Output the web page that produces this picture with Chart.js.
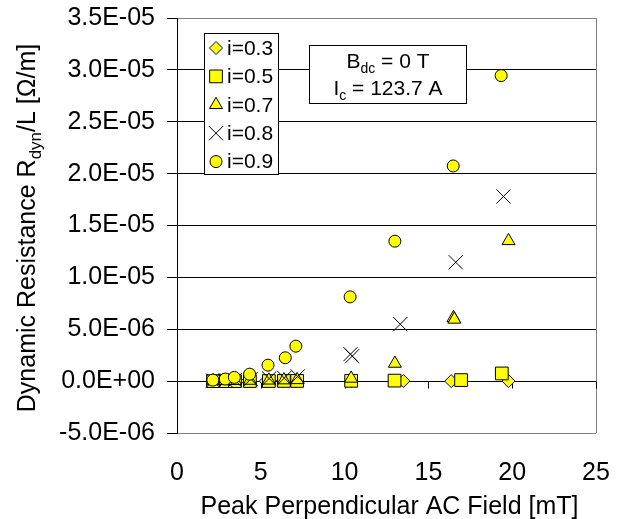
<!DOCTYPE html>
<html>
<head>
<meta charset="utf-8">
<script src="https://cdn.jsdelivr.net/npm/chart.js@4/dist/chart.umd.min.js"></script>
<style>
  html, body { margin: 0; padding: 0; background: #fff; }
  #wrap { width: 621px; height: 519px; position: relative; }
</style>
</head>
<body>
<div id="wrap"><canvas id="rdynChart"></canvas></div>
<script>
// peak perpendicular AC field [mT] and R_dyn/L [Ohm/m]
const xI03 = [2.1, 2.85, 3.4, 4.2, 5.3, 6.3, 7.1, 10.4, 13.51, 16.36, 19.78]
const yI03 = [0, 0, 0, 0, 0, 0, 0, 0, 0.01e-6, 0, 0]

const xI05 = [2.15, 2.94, 3.46, 4.35, 5.48, 6.38, 7.17, 10.39, 12.98, 16.95, 19.38]
const yI05 = [0, 0, 0, 0.01e-6, 0.01e-6, 0.02e-6, 0.02e-6, 0.03e-6, 0.05e-6, 0.1e-6, 0.74e-6]

const xI07 = [2.15, 2.9, 3.45, 4.35, 5.48, 6.38, 7.17, 10.39, 13.0, 16.5, 16.55, 19.78]
const yI07 = [0.02e-6, 0.03e-6, 0.04e-6, 0.06e-6, 0.08e-6, 0.1e-6, 0.12e-6, 0.26e-6, 1.7e-6, 6.1e-6, 5.95e-6, 1.352e-5]

const xI08 = [2.15, 2.9, 3.45, 4.4, 5.5, 6.4, 7.2, 10.35, 10.45, 13.32, 16.63, 19.48]
const yI08 = [0.05e-6, 0.08e-6, 0.1e-6, 0.2e-6, 0.25e-6, 0.3e-6, 0.45e-6, 2.6e-6, 2.4e-6, 5.49e-6, 1.146e-5, 1.78e-5]

const xI09 = [2.14, 2.88, 3.42, 4.33, 5.43, 6.46, 7.09, 10.33, 13.0, 16.48, 19.34]
const yI09 = [0.1e-6, 0.2e-6, 0.36e-6, 0.67e-6, 1.54e-6, 2.25e-6, 3.37e-6, 8.12e-6, 1.349e-5, 2.074e-5, 2.945e-5]

const seriesLabels = ['i=0.3', 'i=0.5', 'i=0.7', 'i=0.8', 'i=0.9']
const yTickValues = [-5e-6, 0, 5e-6, 1e-5, 1.5e-5, 2e-5, 2.5e-5, 3e-5, 3.5e-5]
const xTickValues = [0, 5, 10, 15, 20, 25]

const FONT = "Arial, 'Liberation Sans', sans-serif"

const toPoints = (xs, ys) => xs.map((x, i) => ({x, y: ys[i]}))

const fmtSci = (v) => {
    if (Math.abs(v) < 1e-12) v = 0
    const [m, e] = v.toExponential(1).split('e')
    const n = Number(e)
    return m + 'E' + (n < 0 ? '-' : '+') + String(Math.abs(n)).padStart(2, '0')
}

const marker = (style, radius, border) => ({
    pointStyle: style,
    pointRadius: radius,
    pointBackgroundColor: '#ffff00',
    pointBorderColor: border,
    pointBorderWidth: 1,
    showLine: false,
})

const datasets = [
    {label: seriesLabels[0], data: toPoints(xI03, yI03), ...marker('rectRot', 6.5, '#000080'), order: 5},
    {label: seriesLabels[1], data: toPoints(xI05, yI05), ...marker('rect', 9, '#000'), order: 4},
    {label: seriesLabels[2], data: toPoints(xI07, yI07), ...marker('triangle', 7.5, '#000'), order: 3},
    {label: seriesLabels[3], data: toPoints(xI08, yI08), ...marker('crossRot', 10, '#000'), order: 2},
    {label: seriesLabels[4], data: toPoints(xI09, yI09), ...marker('circle', 6, '#000'), order: 1},
]

// draws runs of text with optional subscripts, returns total width
const drawRuns = (ctx, runs, x, y, size, measureOnly) => {
    let w = 0
    const subSize = Math.round(size * 0.66)
    for (const r of runs) {
        ctx.font = (r.sub ? subSize : size) + 'px ' + FONT
        if (!measureOnly) ctx.fillText(r.t, x + w, y + (r.sub ? Math.round(size * 0.25) : 0))
        w += ctx.measureText(r.t).width
    }
    return w
}

const decorations = {
    id: 'decorations',
    beforeDatasetsDraw(chart) {
        const {ctx, chartArea, scales} = chart
        ctx.save()
        // right border of the plot area
        ctx.strokeStyle = '#808080'
        ctx.lineWidth = 1
        ctx.beginPath()
        ctx.moveTo(Math.round(chartArea.right) + 0.5, chartArea.top)
        ctx.lineTo(Math.round(chartArea.right) + 0.5, chartArea.bottom)
        ctx.stroke()
        // x axis sits on y = 0 with tick marks below it
        const y0 = Math.round(scales.y.getPixelForValue(0)) + 0.5
        ctx.strokeStyle = '#000'
        ctx.beginPath()
        for (const v of xTickValues) {
            const px = Math.round(scales.x.getPixelForValue(v)) + 0.5
            ctx.moveTo(px, y0)
            ctx.lineTo(px, y0 + 7)
        }
        ctx.stroke()
        ctx.restore()
    },
    afterDatasetsDraw(chart) {
        const {ctx, chartArea} = chart
        ctx.save()

        // legend box
        ctx.fillStyle = '#fff'
        ctx.fillRect(204, 33, 74, 141)
        ctx.strokeStyle = '#000'
        ctx.lineWidth = 1
        ctx.strokeRect(204.5, 33.5, 74, 141)
        const drawPoint = Chart.helpers && Chart.helpers.drawPoint
        chart.data.datasets.forEach((ds, i) => {
            const cy = 48 + i * 28.4
            ctx.fillStyle = ds.pointBackgroundColor
            ctx.strokeStyle = ds.pointBorderColor
            ctx.lineWidth = 1
            if (drawPoint) {
                drawPoint(ctx, {pointStyle: ds.pointStyle, radius: ds.pointRadius, rotation: 0, borderWidth: 1}, 216, cy)
            }
            ctx.fillStyle = '#000'
            ctx.font = '21px ' + FONT
            ctx.textAlign = 'left'
            ctx.textBaseline = 'middle'
            ctx.fillText(ds.label, 227, cy + 1)
        })

        // annotation box
        ctx.fillStyle = '#fff'
        ctx.fillRect(309, 45, 157, 58)
        ctx.strokeStyle = '#000'
        ctx.strokeRect(309.5, 45.5, 157, 58)
        ctx.fillStyle = '#000'
        ctx.textAlign = 'left'
        ctx.textBaseline = 'alphabetic'
        const line1 = [{t: 'B'}, {t: 'dc', sub: true}, {t: ' = 0 T'}]
        const line2 = [{t: 'I'}, {t: 'c', sub: true}, {t: ' = 123.7 A'}]
        let w = drawRuns(ctx, line1, 0, 0, 21, true)
        drawRuns(ctx, line1, 388 - w / 2, 68, 21)
        w = drawRuns(ctx, line2, 0, 0, 21, true)
        drawRuns(ctx, line2, 388 - w / 2, 95, 21)

        // axis titles
        ctx.font = '25px ' + FONT
        ctx.textAlign = 'center'
        ctx.fillText('Peak Perpendicular AC Field [mT]', (chartArea.left + chartArea.right) / 2 + 3, 514)

        const yTitle = [{t: 'Dynamic Resistance R'}, {t: 'dyn', sub: true}, {t: '/L [Ω/m]'}]
        ctx.textAlign = 'left'
        ctx.translate(35, 228)
        ctx.rotate(-Math.PI / 2)
        w = drawRuns(ctx, yTitle, 0, 0, 25, true)
        drawRuns(ctx, yTitle, -w / 2, 0, 25)
        ctx.restore()
    }
}

const rdynChart = document.getElementById('rdynChart')
new Chart(rdynChart, {
    type: 'scatter',
    data: {datasets},
    plugins: [decorations],
    options: {
        responsive: true,
        maintainAspectRatio: false,
        animation: false,
        events: [],
        layout: {padding: {left: 0, right: 25, top: 18, bottom: 0}},
        plugins: {
            legend: {display: false},
            tooltip: {enabled: false},
        },
        scales: {
            x: {
                type: 'linear',
                min: 0,
                max: 25,
                afterBuildTicks: (s) => { s.ticks = xTickValues.map(value => ({value})) },
                afterFit: (s) => {
                    s.height = 86
                    s.paddingLeft = 0
                    s.paddingRight = 0
                },
                grid: {display: false, drawTicks: false},
                border: {display: false},
                ticks: {
                    color: '#000',
                    padding: 25,
                    maxRotation: 0,
                    font: {family: FONT, size: 25},
                },
            },
            y: {
                type: 'linear',
                min: -5e-6,
                max: 3.5e-5,
                afterBuildTicks: (s) => { s.ticks = yTickValues.map(value => ({value})) },
                afterFit: (s) => {
                    s.width = 177
                    s.paddingTop = 0
                    s.paddingBottom = 0
                },
                grid: {
                    color: (c) => (c.tick && (c.tick.value === -5e-6 || c.tick.value === 3.5e-5)) ? '#808080' : '#000',
                    tickColor: '#000',
                    tickLength: 10,
                    lineWidth: 1,
                },
                border: {display: true, color: '#000', width: 1},
                ticks: {
                    color: '#000',
                    padding: 12,
                    font: {family: FONT, size: 25},
                    callback: (v) => fmtSci(v),
                },
            },
        },
    },
})
</script>
</body>
</html>
